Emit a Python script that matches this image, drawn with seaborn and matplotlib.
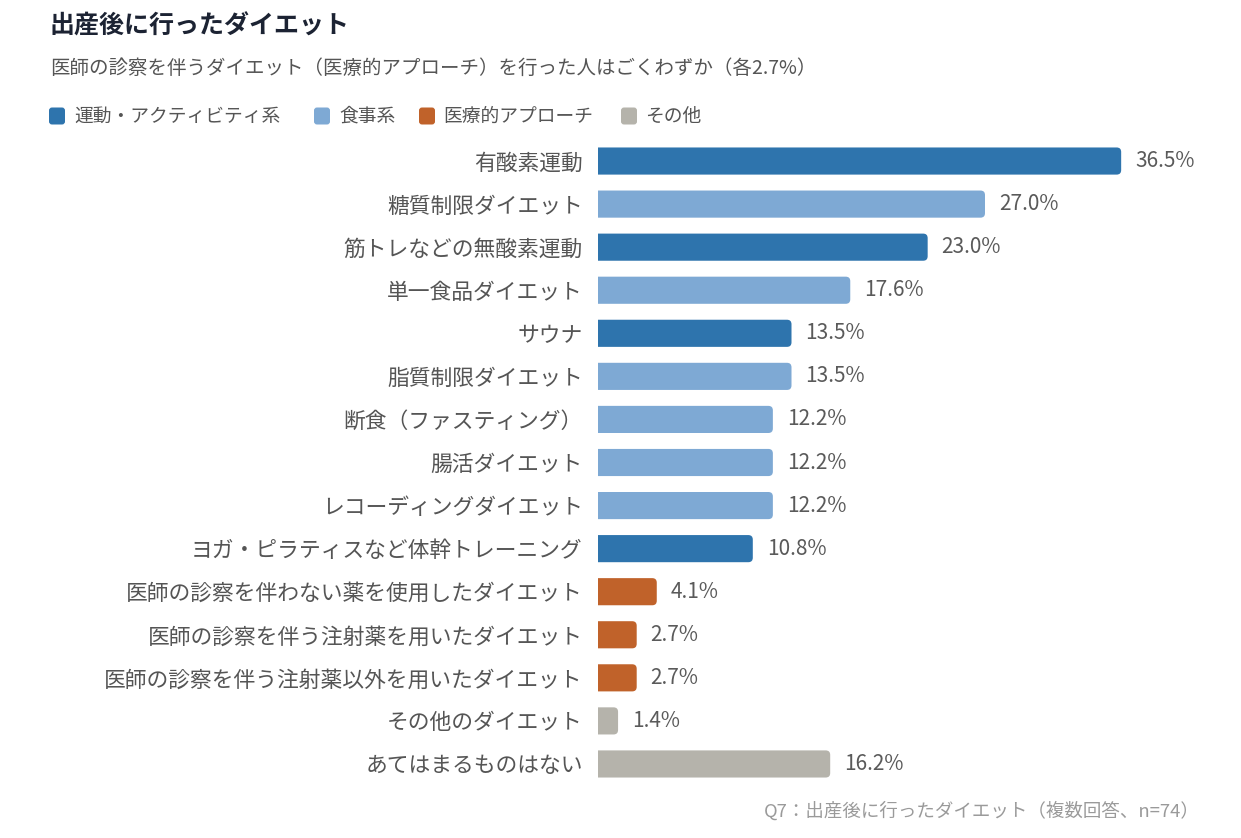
import matplotlib
matplotlib.use("Agg")
import matplotlib.pyplot as plt
from matplotlib.patches import FancyBboxPatch, PathPatch
from matplotlib.path import Path
from matplotlib.transforms import IdentityTransform
import seaborn as sns
import pandas as pd

categories = [
    "有酸素運動", "糖質制限ダイエット", "筋トレなどの無酸素運動", "単一食品ダイエット",
    "サウナ", "脂質制限ダイエット", "断食（ファスティング）", "腸活ダイエット",
    "レコーディングダイエット", "ヨガ・ピラティスなど体幹トレーニング",
    "医師の診察を伴わない薬を使用したダイエット", "医師の診察を伴う注射薬を用いたダイエット",
    "医師の診察を伴う注射薬以外を用いたダイエット", "その他のダイエット", "あてはまるものはない",
]
values = [36.5, 27.0, 23.0, 17.6, 13.5, 13.5, 12.2, 12.2, 12.2, 10.8, 4.1, 2.7, 2.7, 1.4, 16.2]
groups = ["運動・アクティビティ系", "食事系", "運動・アクティビティ系", "食事系",
          "運動・アクティビティ系", "食事系", "食事系", "食事系", "食事系",
          "運動・アクティビティ系", "医療的アプローチ", "医療的アプローチ", "医療的アプローチ",
          "その他", "その他"]
legend_labels = ["運動・アクティビティ系", "食事系", "医療的アプローチ", "その他"]
colors = ["#2E74AD", "#7EA9D4", "#C0622A", "#B5B3AB"]

title = "出産後に行ったダイエット"
subtitle = "医師の診察を伴うダイエット（医療的アプローチ）を行った人はごくわずか（各2.7%）"
footer = "Q7：出産後に行ったダイエット（複数回答、n=74）"

sns.set_theme(style="white")
plt.rcParams["font.family"] = ["Noto Sans CJK JP", "DejaVu Sans"]

df = pd.DataFrame({"cat": categories, "val": values, "grp": groups})
palette = dict(zip(legend_labels, colors))

W, H = 1241, 838
fig = plt.figure(figsize=(W / 100, H / 100), dpi=100)
ax = fig.add_axes([598 / W, 1 - 785.5 / H, (1200 - 598) / W, 646 / H])

sns.barplot(data=df, y="cat", x="val", hue="grp", hue_order=legend_labels,
            palette=palette, order=categories, dodge=False, legend=False,
            width=0.63, ax=ax, saturation=1)

xmax = 42.0
ax.set_xlim(0, xmax)
ax.set_ylim(len(categories) - 0.5, -0.5)

for cont in ax.containers:
    ax.bar_label(cont, fmt="%.1f%%", padding=10, fontsize=15, color="#5a5a5a")

# rounded right corners (radius ~4.5 px)
px_per_x = (1200 - 598) / xmax
px_per_y = 646 / len(categories)
rx = 4.5 / px_per_x
ry = 4.5 / px_per_y
for p in list(ax.patches):
    x, y, w, h = p.get_x(), p.get_y(), p.get_width(), p.get_height()
    if not (w > 0):
        continue
    r_x = min(rx, w / 2)
    x1, y1 = x + w, y + h
    verts = [(x, y), (x1 - r_x, y), (x1, y), (x1, y + ry),
             (x1, y1 - ry), (x1, y1), (x1 - r_x, y1), (x, y1), (x, y)]
    codes = [Path.MOVETO, Path.LINETO, Path.CURVE3, Path.CURVE3,
             Path.LINETO, Path.CURVE3, Path.CURVE3, Path.LINETO, Path.CLOSEPOLY]
    pp = PathPatch(Path(verts, codes), facecolor=p.get_facecolor(),
                   edgecolor="none", linewidth=0)
    ax.add_patch(pp)
    p.set_visible(False)

for s in ax.spines.values():
    s.set_visible(False)
ax.set_xlabel("")
ax.set_ylabel("")
ax.set_xticks([])
ax.tick_params(axis="y", length=0, pad=11, labelsize=15.7, labelcolor="#555555")

fig.text(50 / W, 1 - 26 / H, title, fontsize=18, fontweight="bold",
         color="#1c2333", ha="left", va="center")
fig.text(50 / W, 1 - 68 / H, subtitle, fontsize=14, color="#555555",
         ha="left", va="center")
fig.text(1200 / W, 1 - 811 / H, footer, fontsize=13.3, color="#9a9a9a",
         ha="right", va="center")

# legend
handle_x = [49, 314, 419, 621]
text_x = [74, 339, 443, 645]
ly = 116
for hx, tx, lab, col in zip(handle_x, text_x, legend_labels, colors):
    fig.patches.append(FancyBboxPatch((hx, H - ly - 8.5), 16, 17,
                                      boxstyle="round,pad=0,rounding_size=3",
                                      transform=IdentityTransform(), facecolor=col,
                                      edgecolor="none", figure=fig))
    fig.text(tx / W, 1 - ly / H, lab, fontsize=13.5, color="#555555",
             ha="left", va="center")

fig.savefig("out.png", dpi=100, facecolor="white")
